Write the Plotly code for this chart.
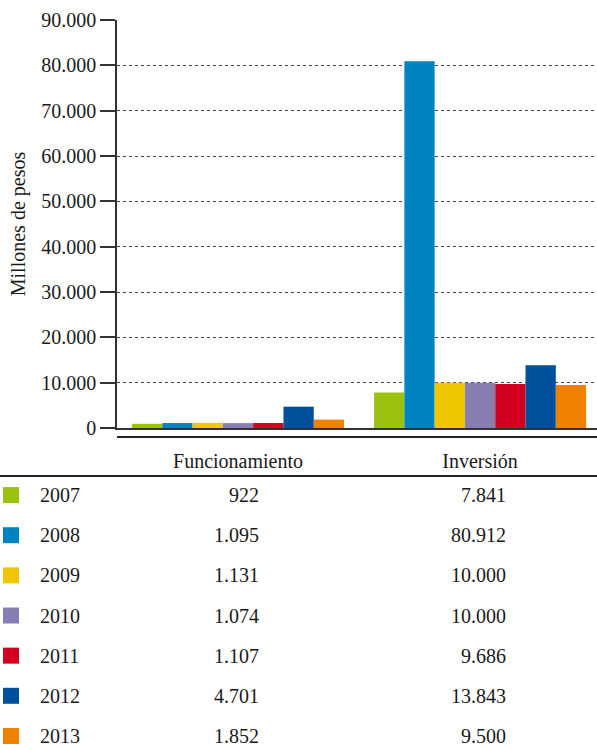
import plotly.graph_objects as go

# Gasto por tipo y año (millones de pesos)
categories = ["Funcionamiento", "Inversión"]
years = ["2007", "2008", "2009", "2010", "2011", "2012", "2013"]
funcionamiento = [922, 1095, 1131, 1074, 1107, 4701, 1852]
inversion = [7841, 80912, 10000, 10000, 9686, 13843, 9500]
colors = ["#9BC20F", "#0083C1", "#F0C600", "#877DB0", "#D3001F", "#00509E", "#F08000"]
y_ticks = [0, 10000, 20000, 30000, 40000, 50000, 60000, 70000, 80000, 90000]

W, H = 597, 750
FONT = "Liberation Serif"
FS = 20
TXT = "#1a1a1a"

# pixel layout of the page
plot_left, plot_top, plot_bottom = 117, 20, 428
rule_top, rule_bottom = 437, 476


def py(px):
    return 1 - px / H


def px_x(px):
    return px / W


def fmt(v):
    return f"{v:,}".replace(",", ".")


fig = go.Figure()

for i, yr in enumerate(years):
    fig.add_trace(go.Bar(
        x=categories,
        y=[funcionamiento[i], inversion[i]],
        name=yr,
        marker=dict(color=colors[i], line=dict(width=0)),
        xaxis="x", yaxis="y",
        showlegend=False,
    ))

# table swatches on a row axis (row index = year position)
fig.add_trace(go.Scatter(
    x=[11] * len(years),
    y=list(range(len(years))),
    mode="markers",
    marker=dict(symbol="square", size=16, color=colors, line=dict(width=0)),
    xaxis="x2", yaxis="y2",
    showlegend=False, hoverinfo="skip",
))

font = dict(family=FONT, size=FS, color=TXT)
annotations = []
for i, yr in enumerate(years):
    annotations.append(dict(x=px_x(38), y=i, xref="paper", yref="y2", text=yr,
                            xanchor="left", yanchor="middle", showarrow=False, font=font))
    annotations.append(dict(x=px_x(261), y=i, xref="paper", yref="y2", text=fmt(funcionamiento[i]),
                            xanchor="right", yanchor="middle", showarrow=False, font=font))
    annotations.append(dict(x=px_x(508), y=i, xref="paper", yref="y2", text=fmt(inversion[i]),
                            xanchor="right", yanchor="middle", showarrow=False, font=font))

shapes = [
    dict(type="line", xref="paper", yref="paper", x0=px_x(plot_left), x1=1,
         y0=py(rule_top), y1=py(rule_top), line=dict(color="#222", width=2)),
    dict(type="line", xref="paper", yref="paper", x0=0, x1=1,
         y0=py(rule_bottom), y1=py(rule_bottom), line=dict(color="#222", width=2)),
]

fig.update_layout(
    width=W, height=H,
    margin=dict(l=0, r=0, t=0, b=0, autoexpand=False),
    paper_bgcolor="white", plot_bgcolor="white",
    separators=",.",
    font=font,
    barmode="group", bargap=0.124, bargroupgap=0,
    xaxis=dict(
        domain=[px_x(plot_left), 1],
        range=[-0.5, 1.483],
        anchor="y",
        automargin=False,
        showline=True, linecolor="#333", linewidth=1.5,
        ticks="", showgrid=False, zeroline=False,
        ticklabelstandoff=14,
        tickfont=font,
    ),
    yaxis=dict(
        domain=[py(plot_bottom), py(plot_top)],
        range=[0, 90000],
        anchor="x",
        automargin=False,
        tickvals=y_ticks,
        tickformat=",d",
        ticks="outside", ticklen=15, tickwidth=1.5, tickcolor="#333",
        showline=True, linecolor="#333", linewidth=1.5,
        showgrid=True, gridcolor="#444", gridwidth=1, griddash="3px,3px",
        zeroline=False,
        tickfont=font,
        title=dict(text="Millones de pesos", standoff=10, font=font),
    ),
    xaxis2=dict(domain=[0, 1], range=[0, W], anchor="y2", automargin=False,
                visible=False, fixedrange=True),
    yaxis2=dict(domain=[0, py(rule_bottom)], range=[6.35, -0.475], anchor="x2",
                automargin=False, visible=False, fixedrange=True),
    shapes=shapes,
    annotations=annotations,
)

fig.write_html("out.html")
